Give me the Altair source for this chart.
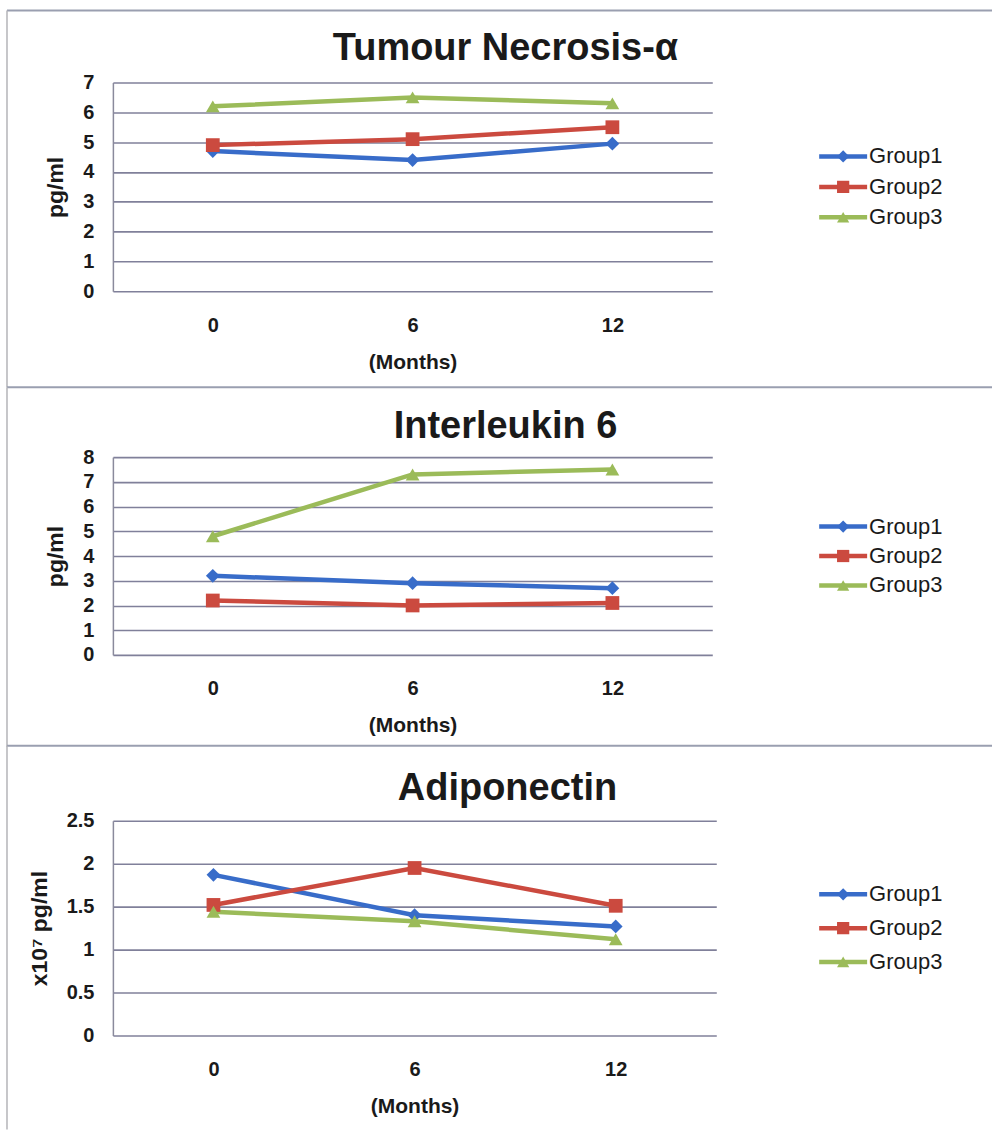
import altair as alt
import pandas as pd

months = ["0", "6", "12"]
groups = ["Group1", "Group2", "Group3"]

tnf_g1 = [4.7, 4.4, 4.95]
tnf_g2 = [4.9, 5.1, 5.5]
tnf_g3 = [6.2, 6.5, 6.3]

il6_g1 = [3.2, 2.9, 2.7]
il6_g2 = [2.2, 2.0, 2.1]
il6_g3 = [4.8, 7.3, 7.5]

adi_g1 = [1.87, 1.40, 1.27]
adi_g2 = [1.52, 1.95, 1.51]
adi_g3 = [1.44, 1.33, 1.12]

tnf_ticks = [0, 1, 2, 3, 4, 5, 6, 7]
il6_ticks = [0, 1, 2, 3, 4, 5, 6, 7, 8]
adi_ticks = [0, 0.5, 1, 1.5, 2, 2.5]

titles = ["Tumour Necrosis-\u03b1", "Interleukin 6", "Adiponectin"]
ytitles = ["pg/ml", "pg/ml", "x10\u2077 pg/ml"]

colors = ["#386CC9", "#CB4A3F", "#9BBB59"]
shapes = ["diamond", "square", "triangle-up"]
FONT = "Liberation Sans"
INK = "#1a1a1a"
GRID = "#80809a"
FRAME = "#9a9fb0"

color = alt.Color("group:N", scale=alt.Scale(domain=groups, range=colors), legend=None)
shape = alt.Shape("group:N", scale=alt.Scale(domain=groups, range=shapes), legend=None)


def make_df(series):
    rows = []
    for g, vals in zip(groups, series):
        for i, (m, v) in enumerate(zip(months, vals)):
            rows.append({"month": m, "idx": i, "group": g, "value": v})
    return pd.DataFrame(rows)


def plot_panel(title, series, ticks, ytitle, width, height, title_offset):
    df = make_df(series)
    x = alt.X(
        "month:O", sort=months,
        scale=alt.Scale(type="point", padding=0.5),
        axis=alt.Axis(
            title="(Months)", labelAngle=0, ticks=False, domain=False, grid=False,
            labelFont=FONT, labelFontSize=20, labelFontWeight="bold", labelColor=INK,
            labelPadding=24,
            titleFont=FONT, titleFontSize=21, titleFontWeight="bold", titleColor=INK,
            titlePadding=16,
        ),
    )
    y = alt.Y(
        "value:Q",
        scale=alt.Scale(domain=[ticks[0], ticks[-1]], nice=False),
        axis=alt.Axis(
            title=ytitle, values=ticks, format="~g", ticks=False,
            domain=True, domainColor="#8a8a9c", domainWidth=1.5,
            grid=True, gridColor=GRID, gridWidth=1.6,
            labelFont=FONT, labelFontSize=20, labelFontWeight="bold", labelColor=INK,
            labelPadding=19,
            titleFont=FONT, titleFontSize=23, titleFontWeight="bold", titleColor=INK,
            titlePadding=15,
        ),
    )
    base = alt.Chart(df)
    line = base.mark_line(strokeWidth=4.5).encode(
        x=x, y=y, color=color, order=alt.Order("idx:Q"))
    pts = base.mark_point(filled=True, opacity=1, size=190).encode(
        x=x, y=y, color=color, shape=shape)
    return alt.layer(line, pts).properties(
        width=width, height=height,
        title=alt.TitleParams(
            text=title, font=FONT, fontSize=38, fontWeight="bold", color=INK,
            anchor="middle", dx=93, offset=title_offset),
    )


def legend_panel(height, leg_pad, frame_top, frame_bottom):
    leg_df = pd.DataFrame({"group": groups, "pos": [0, 1, 2]})
    ly = alt.Y("pos:Q", scale=alt.Scale(domain=[-leg_pad, 2 + leg_pad], reverse=True, nice=False, zero=False),
               axis=None)
    lbase = alt.Chart(leg_df)
    lrule = lbase.mark_rule(strokeWidth=4.5).encode(
        x=alt.value(0), x2=alt.value(48), y=ly, color=color)
    lpt = lbase.mark_point(filled=True, opacity=1, size=150).encode(
        x=alt.value(24), y=ly, color=color, shape=shape)
    ltxt = lbase.mark_text(align="left", baseline="middle", font=FONT, fontSize=22,
                           color=INK).encode(x=alt.value(50), y=ly, text="group:N")
    # chart frame (decorative border lines of each original chart box)
    fdf = pd.DataFrame({"k": [0]})
    ftop = alt.Chart(fdf).mark_rule(color=FRAME, strokeWidth=2).encode(
        x=alt.value(-813), x2=alt.value(173), y=alt.value(frame_top))
    fleft = alt.Chart(fdf).mark_rule(color="#b4b4b8", strokeWidth=1.5).encode(
        x=alt.value(-813), y=alt.value(frame_top), y2=alt.value(frame_bottom))
    return alt.layer(ftop, fleft, lrule, lpt, ltxt).properties(width=150, height=height)


heights = [209, 198, 215]
plots = alt.vconcat(
    plot_panel(titles[0], [tnf_g1, tnf_g2, tnf_g3], tnf_ticks, ytitles[0], 600, heights[0], 5),
    plot_panel(titles[1], [il6_g1, il6_g2, il6_g3], il6_ticks, ytitles[1], 600, heights[1], 1),
    plot_panel(titles[2], [adi_g1, adi_g2, adi_g3], adi_ticks, ytitles[2], 604, heights[2], 3),
    spacing=166, bounds="flush",
)
legends = alt.vconcat(
    legend_panel(heights[0], 2.43, -72, 305),
    legend_panel(heights[1], 2.36, -70, 290),
    legend_panel(heights[2], 2.18, -75, 309),
    spacing=166, bounds="flush",
)

chart = alt.hconcat(plots, legends, spacing=707, bounds="flush").configure_view(
    strokeOpacity=0
).properties(
    padding={"left": 6, "top": 9, "right": 0, "bottom": 0},
    background="white",
)

chart.save("out.html", embed_options={"renderer": "svg", "actions": False})
